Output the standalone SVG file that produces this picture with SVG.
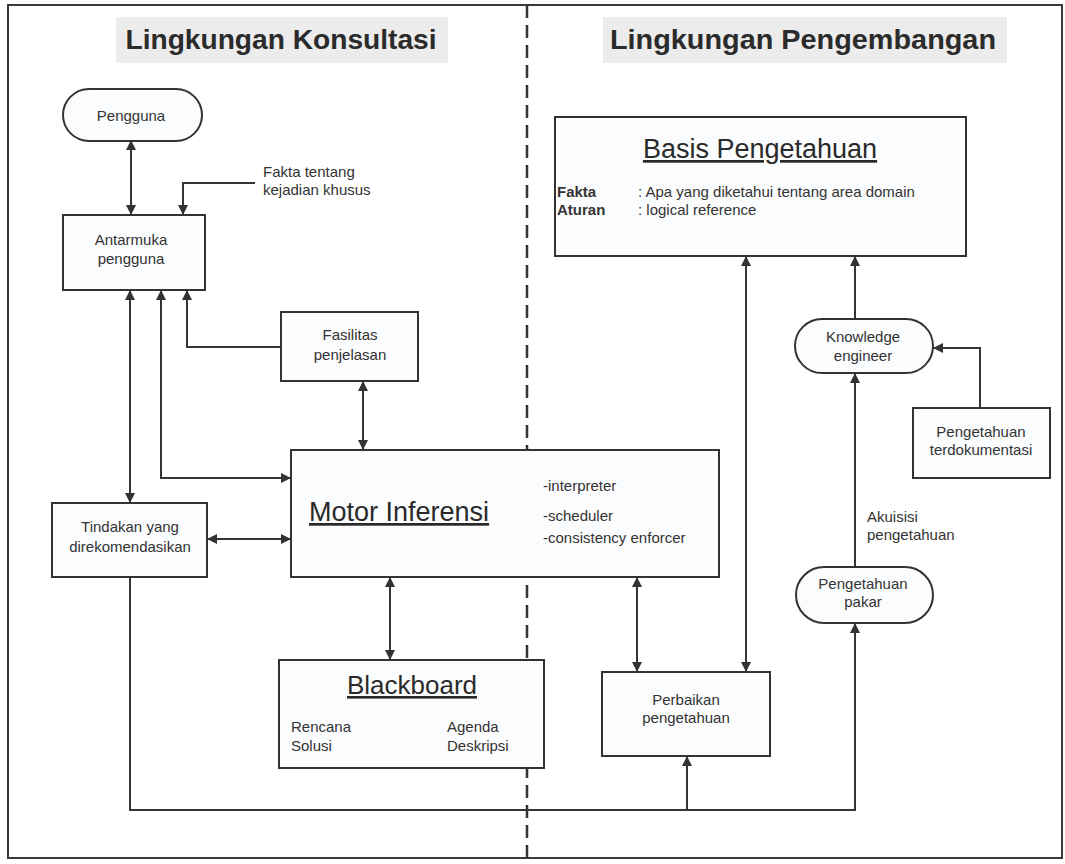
<svg xmlns="http://www.w3.org/2000/svg" width="1065" height="864" viewBox="0 0 1065 864">
  <style>
    .box { fill: #fbfcfd; stroke: #333; stroke-width: 2; }
    .line { fill: none; stroke: #353535; stroke-width: 2; }
    .t { font-family: "Liberation Sans", Arial, sans-serif; font-size: 15px; fill: #333; }
    .c { text-anchor: middle; }
    .big { font-family: "Liberation Sans", Arial, sans-serif; font-size: 27px; fill: #2a2a2a; text-decoration: underline; }
    .hdr { font-family: "Liberation Sans", Arial, sans-serif; font-size: 28px; font-weight: bold; fill: #2b2b2b; text-anchor: middle; }
  </style>
  <defs>
    <marker id="arr" viewBox="0 0 10 10" refX="10" refY="5" markerWidth="11" markerHeight="10" markerUnits="userSpaceOnUse" orient="auto-start-reverse">
      <path d="M0,0 L10,5 L0,10 z" fill="#333"/>
    </marker>
  </defs>

  <rect width="1065" height="864" fill="#ffffff"/>
  <!-- outer frame -->
  <rect x="8" y="5" width="1054" height="853" fill="none" stroke="#3a3a3a" stroke-width="2"/>
  <!-- divider between the two environments -->
  <line x1="527" y1="5" x2="527" y2="864" stroke="#333" stroke-width="2.5" stroke-dasharray="13,7"/>

  <!-- headers -->
  <g id="header-konsultasi">
    <rect x="116" y="17" width="332" height="46" fill="#ececec"/>
    <text class="hdr" x="281" y="49" textLength="311" lengthAdjust="spacingAndGlyphs">Lingkungan Konsultasi</text>
  </g>
  <g id="header-pengembangan">
    <rect x="603" y="17" width="404" height="46" fill="#ececec"/>
    <text class="hdr" x="803" y="49" textLength="386" lengthAdjust="spacingAndGlyphs">Lingkungan Pengembangan</text>
  </g>

  <!-- connectors -->
  <g id="connectors">
    <line class="line" x1="131" y1="140" x2="131" y2="215" marker-start="url(#arr)" marker-end="url(#arr)"/>
    <path class="line" d="M255 183 H183 V215" marker-end="url(#arr)"/>
    <line class="line" x1="130" y1="290" x2="130" y2="503" marker-start="url(#arr)" marker-end="url(#arr)"/>
    <path class="line" d="M161 290 V478 H291" marker-start="url(#arr)" marker-end="url(#arr)"/>
    <path class="line" d="M281 347 H187 V290" marker-end="url(#arr)"/>
    <line class="line" x1="363" y1="381" x2="363" y2="450" marker-start="url(#arr)" marker-end="url(#arr)"/>
    <line class="line" x1="207" y1="539" x2="291" y2="539" marker-start="url(#arr)" marker-end="url(#arr)"/>
    <line class="line" x1="390" y1="577" x2="390" y2="660" marker-start="url(#arr)" marker-end="url(#arr)"/>
    <line class="line" x1="637" y1="577" x2="637" y2="672" marker-start="url(#arr)" marker-end="url(#arr)"/>
    <line class="line" x1="746" y1="256" x2="746" y2="672" marker-start="url(#arr)" marker-end="url(#arr)"/>
    <line class="line" x1="855" y1="319" x2="855" y2="256" marker-end="url(#arr)"/>
    <path class="line" d="M980 408 V348 H933" marker-end="url(#arr)"/>
    <line class="line" x1="855" y1="567" x2="855" y2="373" marker-end="url(#arr)"/>
    <path class="line" d="M130 577 V810 H855 V623" marker-end="url(#arr)"/>
    <line class="line" x1="687" y1="810" x2="687" y2="756" marker-end="url(#arr)"/>
  </g>

  <!-- consultation environment -->
  <g id="pengguna">
    <rect class="box" x="63" y="89" width="139" height="52" rx="26"/>
    <text class="t c" x="131" y="121">Pengguna</text>
  </g>
  <g id="fakta-label">
    <text class="t" x="263" y="177">Fakta tentang</text>
    <text class="t" x="263" y="195">kejadian khusus</text>
  </g>
  <g id="antarmuka">
    <rect class="box" x="63" y="215" width="142" height="75"/>
    <text class="t c" x="131" y="245">Antarmuka</text>
    <text class="t c" x="131" y="264">pengguna</text>
  </g>
  <g id="fasilitas">
    <rect class="box" x="281" y="312" width="137" height="69"/>
    <text class="t c" x="350" y="340">Fasilitas</text>
    <text class="t c" x="350" y="360">penjelasan</text>
  </g>
  <g id="tindakan">
    <rect class="box" x="52" y="503" width="155" height="74"/>
    <text class="t c" x="130" y="532">Tindakan yang</text>
    <text class="t c" x="130" y="552">direkomendasikan</text>
  </g>
  <g id="motor">
    <rect class="box" x="291" y="450" width="428" height="127"/>
    <text class="big" x="309" y="521">Motor Inferensi</text>
    <text class="t" x="543" y="491">-interpreter</text>
    <text class="t" x="543" y="521">-scheduler</text>
    <text class="t" x="543" y="543">-consistency enforcer</text>
  </g>
  <g id="blackboard">
    <rect class="box" x="279" y="660" width="265" height="108"/>
    <text class="big c" x="412" y="694" style="font-size:26px">Blackboard</text>
    <text class="t" x="291" y="732">Rencana</text>
    <text class="t" x="291" y="751">Solusi</text>
    <text class="t" x="447" y="732">Agenda</text>
    <text class="t" x="447" y="751">Deskripsi</text>
  </g>

  <!-- development environment -->
  <g id="basis">
    <rect class="box" x="555" y="117" width="411" height="139"/>
    <text class="big c" x="760" y="158">Basis Pengetahuan</text>
    <text class="t" x="557" y="197" style="font-weight:bold">Fakta</text>
    <text class="t" x="557" y="215" style="font-weight:bold">Aturan</text>
    <text class="t" x="638" y="197">: Apa yang diketahui tentang area domain</text>
    <text class="t" x="638" y="215">: logical reference</text>
  </g>
  <g id="perbaikan">
    <rect class="box" x="602" y="672" width="168" height="84"/>
    <text class="t c" x="686" y="705">Perbaikan</text>
    <text class="t c" x="686" y="723">pengetahuan</text>
  </g>
  <g id="knowledge-engineer">
    <rect class="box" x="795" y="319" width="138" height="54" rx="27"/>
    <text class="t c" x="863" y="342">Knowledge</text>
    <text class="t c" x="863" y="361">engineer</text>
  </g>
  <g id="terdokumentasi">
    <rect class="box" x="913" y="408" width="137" height="70"/>
    <text class="t c" x="981" y="437">Pengetahuan</text>
    <text class="t c" x="981" y="455">terdokumentasi</text>
  </g>
  <g id="akuisisi-label">
    <text class="t" x="867" y="522">Akuisisi</text>
    <text class="t" x="867" y="540">pengetahuan</text>
  </g>
  <g id="pakar">
    <rect class="box" x="796" y="567" width="137" height="56" rx="28"/>
    <text class="t c" x="863" y="589">Pengetahuan</text>
    <text class="t c" x="863" y="607">pakar</text>
  </g>
</svg>
